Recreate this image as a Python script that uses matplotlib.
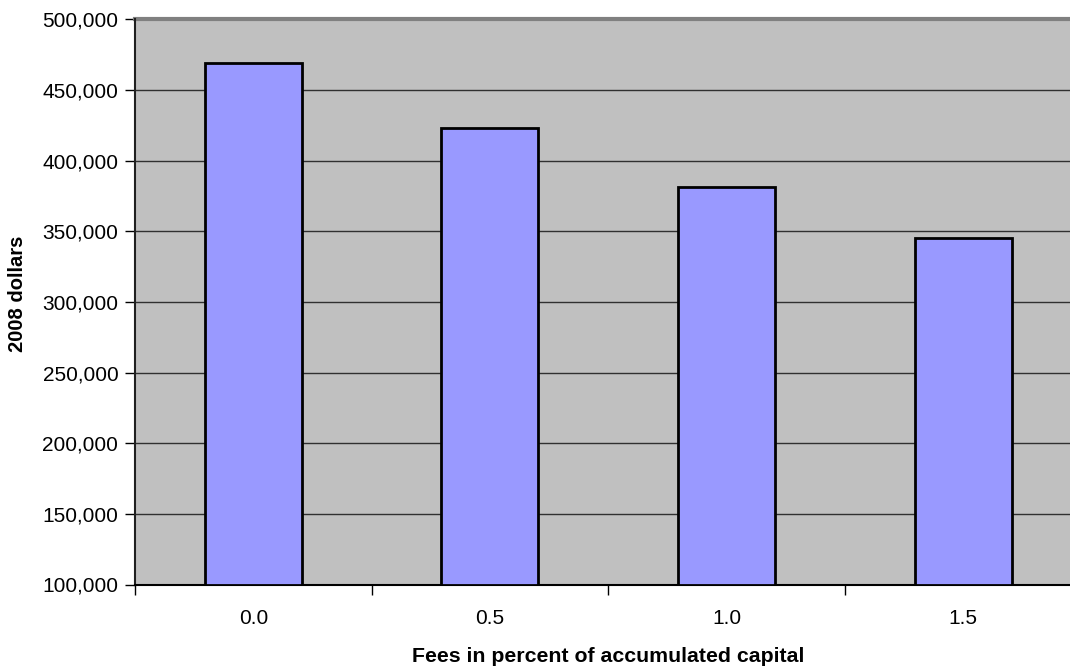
import matplotlib
matplotlib.use("Agg")
import matplotlib.pyplot as plt
from matplotlib.ticker import FuncFormatter, MultipleLocator, FixedLocator

categories = ["0.0", "0.5", "1.0", "1.5"]
values = [469400, 422900, 381700, 345300]

plt.rcParams['font.family'] = ['Liberation Sans', 'DejaVu Sans']

W, H = 1070, 669
fig = plt.figure(figsize=(W / 100, H / 100), dpi=100)
left, right, top, bottom = 135, 1081.6, 19.5, 584.5
ax = fig.add_axes([left / W, (H - bottom) / H, (right - left) / W, (bottom - top) / H])
ax.set_facecolor('#C0C0C0')

x = list(range(len(categories)))
ax.bar(x, [v - 100000 for v in values], bottom=100000, width=0.41,
       color='#9999FF', edgecolor='black', linewidth=2, zorder=3)

ax.set_xlim(-0.5, len(categories) - 0.5)
ax.set_ylim(100000, 500000)
ax.yaxis.set_major_locator(MultipleLocator(50000))
ax.yaxis.set_major_formatter(FuncFormatter(lambda v, p: f"{int(v):,}"))
ax.grid(axis='y', color='#303030', linewidth=1, zorder=1)
ax.set_axisbelow(True)

ax.set_xticks(x)
ax.set_xticklabels(categories)
ax.xaxis.set_minor_locator(FixedLocator([i + 0.5 for i in range(-1, len(categories))]))
ax.tick_params(axis='x', which='major', length=0, pad=17.5, labelsize=15)
ax.tick_params(axis='x', which='minor', length=7, width=1, color='black', direction='out')
ax.tick_params(axis='y', length=7, width=1, direction='out', pad=5, labelsize=15)

for s in ['top', 'right']:
    ax.spines[s].set_visible(False)
ax.spines['left'].set_color('#202020')
ax.spines['left'].set_linewidth(1.5)
ax.spines['bottom'].set_color('black')
ax.spines['bottom'].set_linewidth(1.5)
ax.axhline(500000, color='#808080', linewidth=3, zorder=2, clip_on=False)

fig.text(18 / W, 1 - 294 / H, "2008 dollars", rotation=90, ha='center', va='center',
         fontsize=14.5, fontweight='bold')
fig.text(608 / W, 1 - 662 / H, "Fees in percent of accumulated capital", ha='center', va='baseline',
         fontsize=15.3, fontweight='bold')

fig.savefig("out.png", dpi=100)
